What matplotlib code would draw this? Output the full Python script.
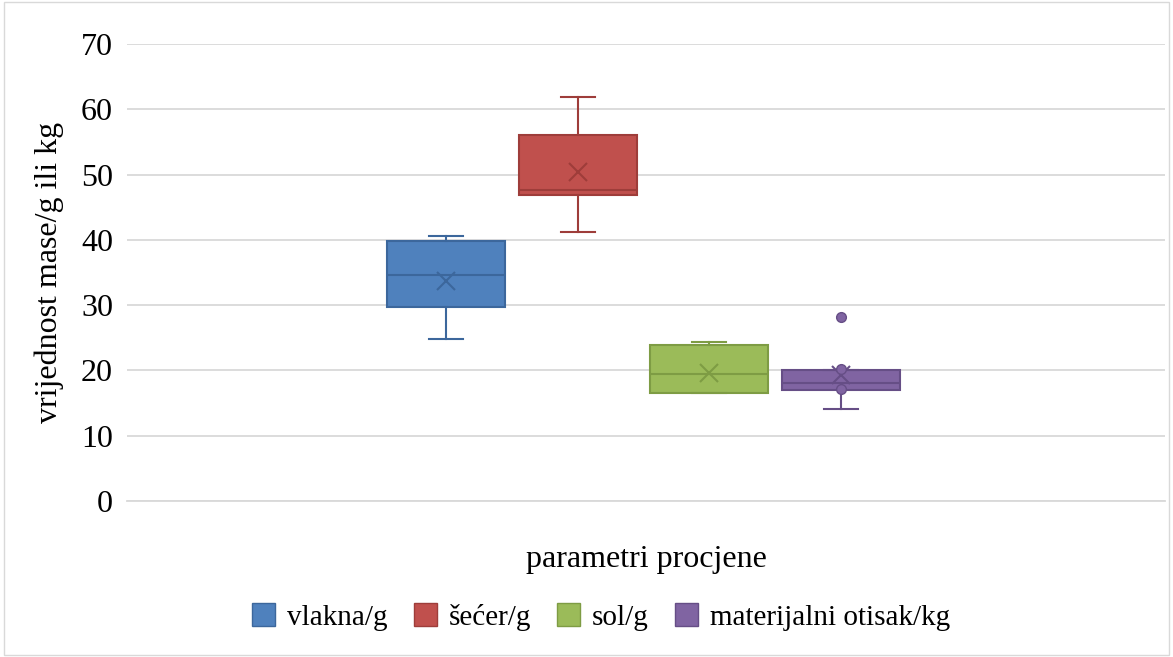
import matplotlib
matplotlib.use("Agg")
import matplotlib.pyplot as plt
from matplotlib.patches import Patch

plt.rcParams['font.family'] = ['Liberation Serif', 'DejaVu Serif']

series = ["vlakna/g", "šećer/g", "sol/g", "materijalni otisak/kg"]
colors = ["#4F81BD", "#C0504D", "#9BBB59", "#8064A2"]
edges = ["#3C679C", "#9E3D3A", "#7E9C44", "#664E86"]
whisk_lo = [24.8, 41.2, 16.5, 14.1]
q1 = [29.7, 46.9, 16.5, 17.0]
median = [34.6, 47.6, 19.4, 18.1]
q3 = [39.8, 56.0, 23.9, 20.1]
whisk_hi = [40.6, 61.9, 24.3, 20.1]
means = [33.7, 50.4, 19.6, 19.3]
points = [[], [], [], [28.2, 20.2, 17.1]]

fig = plt.figure(figsize=(11.73, 6.57), dpi=100)
ax = fig.add_axes([127/1173, 156/657, (1165-127)/1173, (501-44)/657])

stats = []
for i in range(4):
    stats.append(dict(med=median[i], q1=q1[i], q3=q3[i], whislo=whisk_lo[i],
                      whishi=whisk_hi[i], mean=means[i], fliers=[], label=series[i]))

positions = [1, 2, 3, 4]
for i in range(4):
    ax.bxp([stats[i]], positions=[positions[i]], widths=0.9, patch_artist=True,
           showmeans=True, showfliers=False, capwidths=0.26,
           boxprops=dict(facecolor=colors[i], edgecolor=edges[i], linewidth=1.5),
           medianprops=dict(color=edges[i], linewidth=1.5),
           whiskerprops=dict(color=edges[i], linewidth=1.5),
           capprops=dict(color=edges[i], linewidth=1.5),
           meanprops=dict(marker='x', markeredgecolor=edges[i], markersize=13, markeredgewidth=1.5))
    for p in points[i]:
        ax.plot(positions[i], p, 'o', color=colors[i], markersize=7, markeredgecolor=edges[i], zorder=5)

ax.set_xlim(-1.426, 6.464)
ax.set_ylim(0, 70)
ax.set_yticks(range(0, 71, 10))
ax.set_xticks([])
ax.yaxis.grid(True, color="#D9D9D9", linewidth=1.3)
ax.set_axisbelow(True)
for s in ["top", "right", "left"]:
    ax.spines[s].set_visible(False)
ax.spines["bottom"].set_color("#D9D9D9")
ax.spines["bottom"].set_linewidth(1.3)
ax.tick_params(axis='y', length=0, labelsize=23, pad=10)
ax.set_ylabel("vrijednost mase/g ili kg", fontsize=23, labelpad=12)
ax.set_xlabel("parametri procjene", fontsize=23, labelpad=32)

handles = [Patch(facecolor=colors[i], edgecolor=edges[i], label=series[i]) for i in range(4)]
fig.legend(handles=handles, loc='center', bbox_to_anchor=(601/1173, 1 - 617/657), ncol=4,
           frameon=False, fontsize=21, handlelength=0.8, handleheight=0.8,
           handletextpad=0.4, columnspacing=0.9)

border = plt.Rectangle((0.003, 0.003), 0.994, 0.994, transform=fig.transFigure,
                       fill=False, edgecolor="#D9D9D9", linewidth=1)
fig.add_artist(border)

fig.savefig("out.png", dpi=100)
